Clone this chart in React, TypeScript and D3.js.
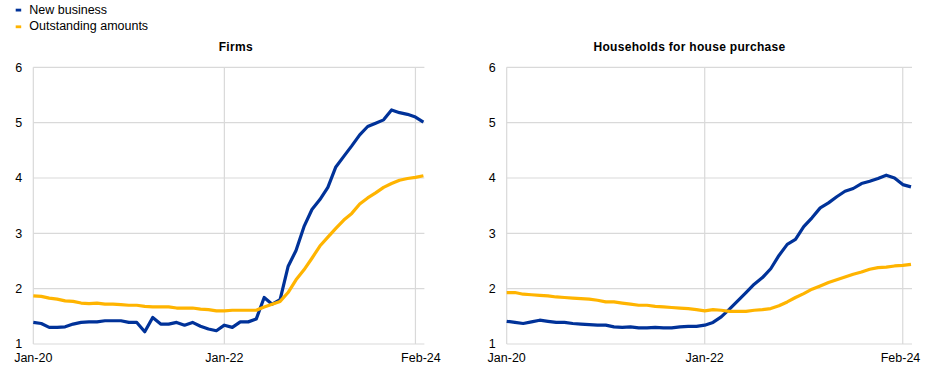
import React from "react";
import * as d3 from "d3";

const months = 50; // Jan-20 .. Feb-24
const yTicks = [1, 2, 3, 4, 5, 6];
const xLabels = ["Jan-20", "Jan-22", "Feb-24"];
const xLabelIdx = [0, 24, 49];
const xGridIdx = [0, 24, 48];
const seriesNames = ["New business", "Outstanding amounts"];
const seriesColors = ["#003299", "#FFB400"];

const firmsNew = [1.39, 1.37, 1.30, 1.30, 1.31, 1.36, 1.39, 1.40, 1.40, 1.42, 1.42, 1.42, 1.39, 1.39, 1.22, 1.48, 1.36, 1.36, 1.39, 1.34, 1.39, 1.32, 1.27, 1.24, 1.34, 1.30, 1.40, 1.40, 1.45, 1.84, 1.72, 1.80, 2.40, 2.69, 3.12, 3.43, 3.61, 3.83, 4.20, 4.39, 4.58, 4.78, 4.93, 4.99, 5.05, 5.23, 5.18, 5.15, 5.10, 5.01];
const firmsOut = [1.87, 1.86, 1.83, 1.81, 1.78, 1.77, 1.74, 1.73, 1.74, 1.72, 1.72, 1.71, 1.70, 1.70, 1.68, 1.67, 1.67, 1.67, 1.65, 1.65, 1.65, 1.63, 1.62, 1.60, 1.60, 1.61, 1.61, 1.61, 1.61, 1.67, 1.72, 1.77, 1.93, 2.16, 2.34, 2.55, 2.77, 2.93, 3.09, 3.24, 3.36, 3.53, 3.64, 3.73, 3.83, 3.90, 3.96, 3.99, 4.01, 4.04];
const hhNew = [1.41, 1.39, 1.37, 1.40, 1.43, 1.41, 1.39, 1.39, 1.37, 1.36, 1.35, 1.34, 1.34, 1.31, 1.30, 1.31, 1.29, 1.29, 1.30, 1.29, 1.29, 1.31, 1.32, 1.32, 1.34, 1.39, 1.49, 1.63, 1.78, 1.93, 2.08, 2.20, 2.36, 2.60, 2.80, 2.89, 3.12, 3.28, 3.46, 3.55, 3.66, 3.76, 3.81, 3.90, 3.94, 3.99, 4.05, 4.00, 3.88, 3.84];
const hhOut = [1.93, 1.93, 1.90, 1.89, 1.88, 1.87, 1.85, 1.84, 1.83, 1.82, 1.81, 1.79, 1.76, 1.76, 1.74, 1.72, 1.70, 1.70, 1.68, 1.67, 1.66, 1.65, 1.64, 1.62, 1.60, 1.62, 1.61, 1.59, 1.59, 1.59, 1.61, 1.62, 1.64, 1.69, 1.76, 1.84, 1.91, 1.99, 2.05, 2.11, 2.16, 2.21, 2.26, 2.30, 2.35, 2.38, 2.39, 2.41, 2.42, 2.44];

const panels = [
  { title: "Firms", series: [firmsNew, firmsOut], x0: 33.3, x1: 423.4, titleX: 235.8, lastLabelDx: -2.5 },
  { title: "Households for house purchase", series: [hhNew, hhOut], x0: 506.7, x1: 911, titleX: 689.5, lastLabelDx: -10.5 },
];

const FONT = "Arial, 'Liberation Sans', sans-serif";
const GRID = "#d9d9d9";

function Panel({ p }: { p: (typeof panels)[number] }) {
  const x = d3.scaleLinear().domain([0, months - 1]).range([p.x0, p.x1]);
  const y = d3.scaleLinear().domain([1, 6]).range([344, 67.3]);
  const line = d3
    .line<number>()
    .x((_, i) => x(i))
    .y((d) => y(d));
  return (
    <g>
      <text x={p.titleX} y={51.3} textAnchor="middle" fontSize={12} fontWeight="bold" letterSpacing={0.3} fill="#000" fontFamily={FONT}>
        {p.title}
      </text>
      {yTicks.map((t) => (
        <g key={t}>
          <line x1={p.x0} x2={p.x1 + 1} y1={y(t)} y2={y(t)} stroke={GRID} strokeWidth={1.2} />
          <text x={p.x0 - 11} y={y(t)} dy="0.35em" textAnchor="end" fontSize={12.5} fill="#000" fontFamily={FONT}>
            {t}
          </text>
        </g>
      ))}
      {xGridIdx.map((i) => (
        <line key={i} x1={x(i)} x2={x(i)} y1={y(6)} y2={y(1)} stroke={GRID} strokeWidth={1.2} />
      ))}
      {p.series.map((s, k) => (
        <path key={k} d={line(s) || ""} fill="none" stroke={seriesColors[k]} strokeWidth={3.2} strokeLinejoin="round" />
      ))}
      {xLabels.map((l, k) => (
        <text
          key={l}
          x={x(xLabelIdx[k]) + (k === xLabels.length - 1 ? p.lastLabelDx : 0)}
          y={362}
          textAnchor="middle"
          fontSize={12.5}
          fill="#000"
          fontFamily={FONT}
        >
          {l}
        </text>
      ))}
    </g>
  );
}

export default function App() {
  return (
    <svg width={944} height={371} style={{ position: "absolute", left: 0, top: 0, background: "#fff" }}>
      <rect width={944} height={371} fill="#fff" />
      {seriesNames.map((n, k) => (
        <g key={n}>
          <rect x={15.7} y={8.7 + k * 16.7} width={5.5} height={2.8} fill={seriesColors[k]} />
          <text x={29.3} y={13.6 + k * 16.7} fontSize={12.5} fill="#000" fontFamily={FONT}>
            {n}
          </text>
        </g>
      ))}
      {panels.map((p) => (
        <Panel key={p.title} p={p} />
      ))}
    </svg>
  );
}
